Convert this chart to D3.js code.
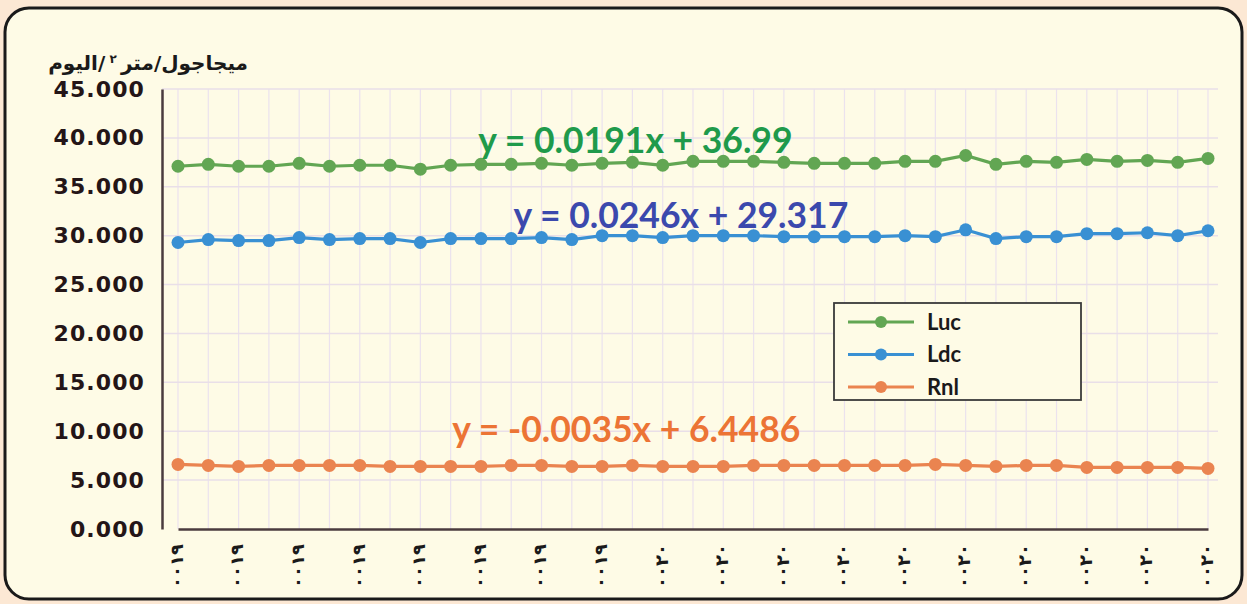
<!DOCTYPE html>
<html><head><meta charset="utf-8">
<script src="https://cdn.jsdelivr.net/npm/d3@7"></script>
<style>html,body{margin:0;padding:0;background:#fce8d4;} svg{display:block}</style>
</head><body><svg id="c" width="1247" height="604"></svg>
<script>
// ---- data ----
const years = [1985,1986,1987,1988,1989,1990,1991,1992,1993,1994,1995,1996,1997,1998,1999,2000,2001,2002,2003,2004,2005,2006,2007,2008,2009,2010,2011,2012,2013,2014,2015,2016,2017,2018,2019];
const luc = [37.1,37.3,37.1,37.1,37.4,37.1,37.2,37.2,36.8,37.2,37.3,37.3,37.4,37.2,37.4,37.5,37.2,37.6,37.6,37.6,37.5,37.4,37.4,37.4,37.6,37.6,38.2,37.3,37.6,37.5,37.8,37.6,37.7,37.5,37.9];
const ldc = [29.3,29.6,29.5,29.5,29.8,29.6,29.7,29.7,29.3,29.7,29.7,29.7,29.8,29.6,30.0,30.0,29.8,30.0,30.0,30.0,29.9,29.9,29.9,29.9,30.0,29.9,30.6,29.7,29.9,29.9,30.2,30.2,30.3,30.0,30.5];
const rnl = [6.6,6.5,6.4,6.5,6.5,6.5,6.5,6.4,6.4,6.4,6.4,6.5,6.5,6.4,6.4,6.5,6.4,6.4,6.4,6.5,6.5,6.5,6.5,6.5,6.5,6.6,6.5,6.4,6.5,6.5,6.3,6.3,6.3,6.3,6.2];
const seriesNames = ["Luc","Ldc","Rnl"];
const seriesColors = ["#62a653","#3990d3","#ea8450"];
const trendTexts = ["y = 0.0191x + 36.99","y = 0.0246x + 29.317","y = -0.0035x + 6.4486"];
const trendColors = ["#1f9a4b","#3b49ad","#ec7435"];
const yTicks = [0,5,10,15,20,25,30,35,40,45];
const tickYears = [1985,1987,1989,1991,1993,1995,1997,1999,2001,2003,2005,2007,2009,2011,2013,2015,2017,2019];
const tickLabels = ["٠٠١٩","٠٠١٩","٠٠١٩","٠٠١٩","٠٠١٩","٠٠١٩","٠٠١٩","٠٠١٩","٠٠٢٠","٠٠٢٠","٠٠٢٠","٠٠٢٠","٠٠٢٠","٠٠٢٠","٠٠٢٠","٠٠٢٠","٠٠٢٠","٠٠٢٠"];
const yTitleParts = ["ميجاجول/متر", "٢", "/اليوم"];

const svg = d3.select("#c");
// frame
svg.append("rect").attr("x",5).attr("y",8).attr("width",1237).attr("height",591)
  .attr("rx",24).attr("ry",24).attr("fill","#fefbe6").attr("stroke","#1a1a1a").attr("stroke-width",3);

const x = d3.scalePoint().domain(years).range([178,1208]);
const xl = d3.scaleLinear().domain([years[0], years[years.length-1]]).range(x.range());
const y = d3.scaleLinear().domain([0,45]).range([529,89]);

// grid
const g = svg.append("g");
g.selectAll(".vg").data(years).join("line")
  .attr("x1",d=>x(d)).attr("x2",d=>x(d)).attr("y1",y(45)).attr("y2",y(0))
  .attr("stroke","#ebe2ee").attr("stroke-width",1.2);
g.selectAll(".hg").data(yTicks.slice(1)).join("line")
  .attr("x1",162).attr("x2",1218).attr("y1",d=>y(d)).attr("y2",d=>y(d))
  .attr("stroke","#e9dfe8").attr("stroke-width",1.5);

// axes
const yAxis = d3.axisLeft(y).tickValues(yTicks).tickFormat(d3.format(".3f")).tickSize(0).tickPadding(17);
const ya = svg.append("g").attr("transform","translate(162,0)").call(yAxis);
ya.select(".domain").attr("stroke","#4a3b3e").attr("stroke-width",2.5);
ya.selectAll("text").attr("font-family","DejaVu Sans").attr("font-weight","bold").attr("font-size",22)
  .attr("letter-spacing",1.1).attr("fill","#241517");

const xAxis = d3.axisBottom(x).tickValues(tickYears).tickSize(0).tickFormat((d,i)=>tickLabels[i]);
const xa = svg.append("g").attr("transform","translate(0,529)").call(xAxis);
xa.select(".domain").attr("stroke","#4a3b3e").attr("stroke-width",2.5);
xa.selectAll("text").attr("font-family","DejaVu Sans").attr("font-weight","bold").attr("font-size",18).attr("fill","#1a1a1a")
  .attr("text-anchor","end").attr("dy","0.35em").attr("transform","translate(-2,15) rotate(-90)").attr("x",0).attr("y",0);

// y title (right-to-left)
const tt = svg.append("text").attr("x",248).attr("y",70).attr("text-anchor","start").attr("direction","rtl")
  .attr("font-family","DejaVu Sans").attr("font-weight","bold").attr("font-size",20).attr("fill","#1a1a1a");
tt.append("tspan").text(yTitleParts[0]);
tt.append("tspan").attr("font-size",12).attr("dy",-7).text(" " + yTitleParts[1] + " ");
tt.append("tspan").attr("dy",7).text(yTitleParts[2]);

// series
const all = [luc, ldc, rnl];
const line = d3.line().x((d,i)=>x(years[i])).y(d=>y(d));
all.forEach((s,k)=>{
  svg.append("path").datum(s).attr("d",line).attr("fill","none").attr("stroke",seriesColors[k]).attr("stroke-width",3.2);
  svg.selectAll(null).data(s).join("circle").attr("cx",(d,i)=>x(years[i])).attr("cy",d=>y(d)).attr("r",6.5).attr("fill",seriesColors[k]);
});

// trend labels (anchored in data space)
const trendPos = [[2000.1,38.5],[2001.6,30.8],[1999.8,8.9]];
trendTexts.forEach((t,k)=>{
  svg.append("text").attr("x",xl(trendPos[k][0])).attr("y",y(trendPos[k][1])).attr("text-anchor","middle")
   .attr("font-family","Lato").attr("font-weight","bold").attr("font-size",35.5).attr("fill",trendColors[k]).text(t);
});

// legend
const lg = svg.append("g").attr("transform","translate(834,303)");
lg.append("rect").attr("width",247).attr("height",97).attr("fill","#fefbe6").attr("stroke","#3a3a3a").attr("stroke-width",1.8);
seriesNames.forEach((n,k)=>{
  const yy = 19 + k*32.5;
  lg.append("line").attr("x1",14).attr("x2",80).attr("y1",yy).attr("y2",yy).attr("stroke",seriesColors[k]).attr("stroke-width",3.2);
  lg.append("circle").attr("cx",47).attr("cy",yy).attr("r",6).attr("fill",seriesColors[k]);
  lg.append("text").attr("x",93).attr("y",yy).attr("dy","0.36em").attr("font-family","Lato").attr("font-weight","bold")
    .attr("font-size",22).attr("fill","#1a1a1a").text(n);
});
</script></body></html>
